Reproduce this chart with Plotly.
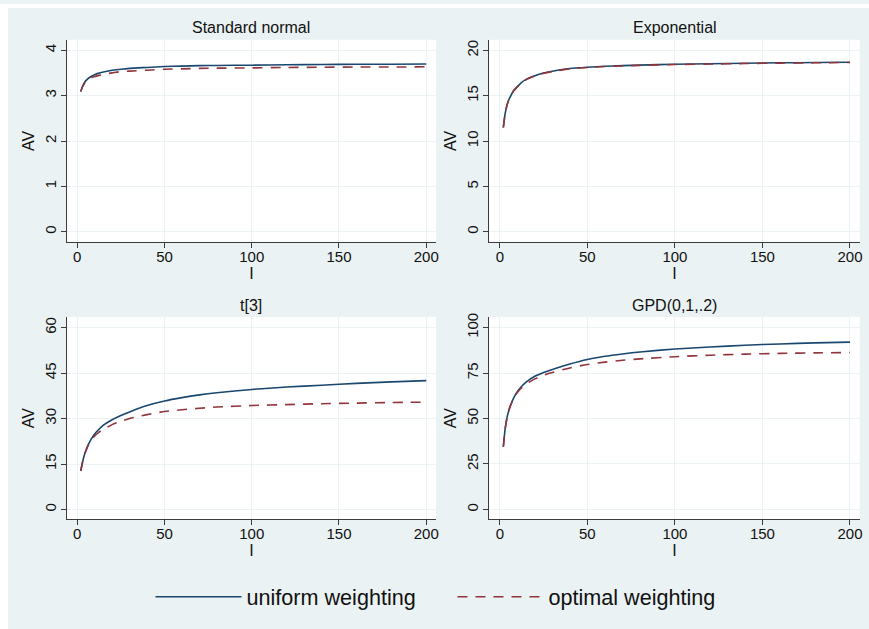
import plotly.graph_objects as go

# ---------------- data ----------------
l_vals = [2, 3, 4, 5, 6, 8, 10, 12, 15, 20, 25, 30, 40, 50, 60, 70, 80, 100, 120, 140, 160, 180, 200]

normal_uniform = [3.09, 3.20, 3.28, 3.33, 3.37, 3.42, 3.46, 3.49, 3.52, 3.56, 3.58, 3.60, 3.62, 3.64,
                  3.65, 3.66, 3.665, 3.67, 3.68, 3.685, 3.69, 3.69, 3.695]
normal_optimal = [3.09, 3.19, 3.26, 3.31, 3.34, 3.39, 3.42, 3.44, 3.47, 3.50, 3.53, 3.54, 3.56, 3.58,
                  3.59, 3.60, 3.605, 3.61, 3.62, 3.625, 3.63, 3.63, 3.635]

expo_uniform = [11.5, 13.0, 13.9, 14.5, 14.9, 15.6, 16.0, 16.4, 16.8, 17.2, 17.5, 17.7, 18.0, 18.15,
                18.25, 18.32, 18.38, 18.47, 18.53, 18.58, 18.63, 18.66, 18.70]
expo_optimal = [11.5, 12.98, 13.88, 14.48, 14.88, 15.57, 15.97, 16.37, 16.77, 17.17, 17.47, 17.67, 17.97, 18.12,
                18.22, 18.29, 18.35, 18.44, 18.50, 18.55, 18.60, 18.63, 18.67]

t3_uniform = [12.7, 15.5, 17.8, 19.5, 21.0, 23.2, 24.9, 26.2, 27.8, 29.6, 31.0, 32.2, 34.3, 35.8,
              36.9, 37.8, 38.5, 39.6, 40.4, 41.0, 41.6, 42.1, 42.5]
t3_optimal = [12.7, 15.5, 17.8, 19.4, 20.8, 22.9, 24.3, 25.3, 26.5, 28.0, 29.1, 30.0, 31.3, 32.3,
              32.9, 33.4, 33.8, 34.3, 34.6, 34.9, 35.1, 35.3, 35.4]

gpd_uniform = [34.5, 44.0, 50.0, 54.0, 57.0, 61.5, 64.8, 67.2, 70.0, 73.2, 75.3, 77.0, 80.0, 82.5,
               84.2, 85.5, 86.6, 88.2, 89.3, 90.3, 91.0, 91.6, 92.0]
gpd_optimal = [34.5, 44.0, 50.0, 54.0, 56.8, 61.2, 64.3, 66.5, 69.0, 71.8, 73.8, 75.3, 77.8, 79.7,
               81.0, 82.0, 82.8, 84.0, 84.8, 85.4, 85.8, 86.1, 86.3]

panel_titles = ["Standard normal", "Exponential", "t[3]", "GPD(0,1,.2)"]
x_ticks = [0, 50, 100, 150, 200]
y_ticks = [
    [0, 1, 2, 3, 4],
    [0, 5, 10, 15, 20],
    [0, 15, 30, 45, 60],
    [0, 25, 50, 75, 100],
]
y_ranges = [[-0.22, 4.23], [-1.1, 21.17], [-3.3, 63.5], [-5.5, 105.8]]
x_range = [-6.0, 205.6]
series_names = ["uniform weighting", "optimal weighting"]

panels = [
    (normal_uniform, normal_optimal),
    (expo_uniform, expo_optimal),
    (t3_uniform, t3_optimal),
    (gpd_uniform, gpd_optimal),
]

# ---------------- style ----------------
# figure slightly larger than the 869x629 window so the background reaches every edge
W, H = 880, 640
BG = "#EAF2F3"
BLUE = "#1A476F"
RED = "#90353B"
AXIS = "#3c3c3c"
FONT = "Liberation Sans, Arial, Helvetica, sans-serif"

# pixel domains (window coordinates)
x_dom_px = [(67, 437.5), (491, 862.7)]
y_dom_px = [(36, 239.3), (315, 518.7)]


def xd(p):
    return [p[0] / W, p[1] / W]


def yd(p):
    return [1 - p[1] / H, 1 - p[0] / H]


fig = go.Figure()
layout = {}
annotations = []

for i, (uni, opt) in enumerate(panels):
    r, c = divmod(i, 2)
    ax = "" if i == 0 else str(i + 1)
    xa, ya = "x" + ax, "y" + ax
    fig.add_trace(go.Scatter(
        x=l_vals, y=uni, mode="lines", line=dict(color=BLUE, width=1.6, shape="spline", smoothing=0.6),
        name=series_names[0], legendgroup="u", showlegend=(i == 0), xaxis=xa, yaxis=ya,
    ))
    fig.add_trace(go.Scatter(
        x=l_vals, y=opt, mode="lines",
        line=dict(color=RED, width=1.6, dash="10px,8px", shape="spline", smoothing=0.6),
        name=series_names[1], legendgroup="o", showlegend=(i == 0), xaxis=xa, yaxis=ya,
    ))
    layout["xaxis" + ax] = dict(
        domain=xd(x_dom_px[c]), anchor=ya, range=x_range, tickvals=x_ticks,
        ticks="outside", ticklen=5, tickcolor=AXIS, tickwidth=1, ticklabelstandoff=-4,
        showline=True, linecolor=AXIS, linewidth=1, mirror=False,
        showgrid=True, gridcolor=BG, gridwidth=1, zeroline=False,
        tickfont=dict(size=15, color="#111", family=FONT),
        title=dict(text="I", font=dict(size=16, color="#111", family=FONT), standoff=1),
    )
    layout["yaxis" + ax] = dict(
        domain=yd(y_dom_px[r]), anchor=xa, range=y_ranges[i], tickvals=y_ticks[i],
        ticks="outside", ticklen=5, tickcolor=AXIS, tickwidth=1, tickangle=-90, ticklabelstandoff=-1,
        showline=True, linecolor=AXIS, linewidth=1,
        showgrid=True, gridcolor=BG, gridwidth=1, zeroline=False,
        tickfont=dict(size=15, color="#111", family=FONT),
        title=dict(text="AV", font=dict(size=16, color="#111", family=FONT), standoff=3),
    )
    cx = (x_dom_px[c][0] + x_dom_px[c][1]) / 2 / W
    ty = 1 - (24 if r == 0 else 303.3) / H
    annotations.append(dict(
        text=panel_titles[i], x=cx, y=ty, xref="paper", yref="paper",
        xanchor="center", yanchor="middle", showarrow=False,
        font=dict(size=16, color="#111", family=FONT),
    ))

fig.update_layout(
    width=W, height=H,
    margin=dict(l=0, r=0, t=0, b=0),
    paper_bgcolor=BG,
    plot_bgcolor="white",
    font=dict(family=FONT, color="#111"),
    annotations=annotations,
    shapes=[
        dict(type="rect", xref="paper", yref="paper", x0=0, x1=8 / W, y0=0, y1=1,
             fillcolor="white", line=dict(width=0), layer="below"),
        dict(type="rect", xref="paper", yref="paper", x0=0, x1=1, y0=1 - 4 / H, y1=1,
             fillcolor="white", line=dict(width=0), layer="below"),
    ],
    legend=dict(
        orientation="h", x=151 / W, y=1 - 597 / H, xanchor="left", yanchor="middle",
        font=dict(size=21.6, color="#111", family=FONT), bgcolor="rgba(0,0,0,0)",
        itemwidth=86, entrywidth=201, entrywidthmode="pixels", tracegroupgap=0,
    ),
    **layout,
)

fig.write_html(
    "out.html",
    config={"displayModeBar": False},
    post_script=(
        "document.documentElement.style.margin='0';document.body.style.margin='0';"
        "document.documentElement.style.overflow='hidden';document.body.style.overflow='hidden';"
        "document.documentElement.style.background='" + BG + "';"
        "document.body.style.background='" + BG + "';"
    ),
)
